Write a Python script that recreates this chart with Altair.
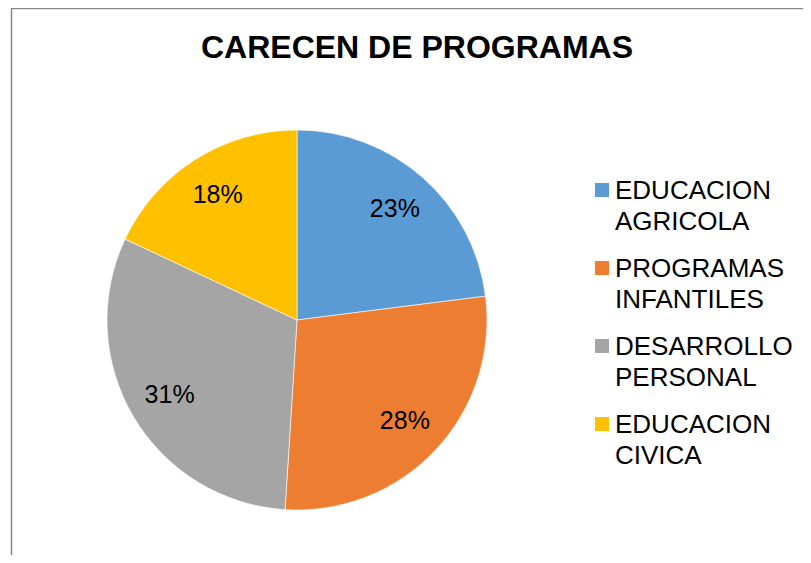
import altair as alt
import pandas as pd

categories = ["EDUCACION AGRICOLA", "PROGRAMAS INFANTILES", "DESARROLLO PERSONAL", "EDUCACION CIVICA"]
values = [23, 28, 31, 18]
colors = ["#5B9BD5", "#ED7D31", "#A5A5A5", "#FFC000"]
title_text = "CARECEN DE PROGRAMAS"

df = pd.DataFrame({
    "cat": categories,
    "val": values,
    "ord": list(range(len(categories))),
    "label": [f"{v}%" for v in values],
})

FONT = "Liberation Sans"
W, H = 792, 547
CX, CY, R = 286, 312, 190

color_scale = alt.Scale(domain=categories, range=colors)

base = alt.Chart(df).encode(
    theta=alt.Theta("val:Q", stack=True),
    order=alt.Order("ord:Q"),
)

arcs = base.mark_arc(radius=R, stroke="white", strokeWidth=0.6).encode(
    color=alt.Color("cat:N", scale=color_scale, legend=None),
    x=alt.value(CX),
    y=alt.value(CY),
)

labels = base.mark_text(radius=148, font=FONT, fontSize=25, color="#000000").encode(
    text="label:N",
    x=alt.value(CX),
    y=alt.value(CY),
)

title = alt.Chart(pd.DataFrame({"t": [title_text]})).mark_text(
    font=FONT, fontSize=32, fontWeight="bold", color="#000000", baseline="middle", align="center"
).encode(text="t:N", x=alt.value(406), y=alt.value(40))

# manual legend
leg_y = alt.Y("cat:N", sort=categories, axis=None,
              scale=alt.Scale(domain=categories, range=[182, 416], padding=0))
leg_sym = alt.Chart(df).mark_square(size=196, opacity=1).encode(
    x=alt.value(591),
    y=leg_y,
    color=alt.Color("cat:N", scale=color_scale, legend=None),
)
leg_txt = alt.Chart(df).mark_text(
    font=FONT, fontSize=26, color="#000000", align="left", baseline="alphabetic",
    lineBreak=" ", lineHeight=31, dy=9,
).encode(x=alt.value(604), y=leg_y, text="cat:N")

frame_df = pd.DataFrame({"k": [0]})
left_line = alt.Chart(frame_df).mark_rule(color="#878787", strokeWidth=1.5).encode(
    x=alt.value(0.5), y=alt.value(0), y2=alt.value(H))
top_line = alt.Chart(frame_df).mark_rule(color="#878787", strokeWidth=1.5).encode(
    y=alt.value(0.5), x=alt.value(0), x2=alt.value(W))

chart = (
    alt.layer(arcs, labels, title, leg_sym, leg_txt, left_line, top_line)
    .resolve_scale(y="independent")
    .properties(width=W, height=H, padding={"left": 3, "top": 0, "right": 0, "bottom": 0},
                autosize=alt.AutoSizeParams(type="none"))
    .configure_view(stroke=None)
)

chart.save("out.html", embed_options={"renderer": "svg", "actions": False})
